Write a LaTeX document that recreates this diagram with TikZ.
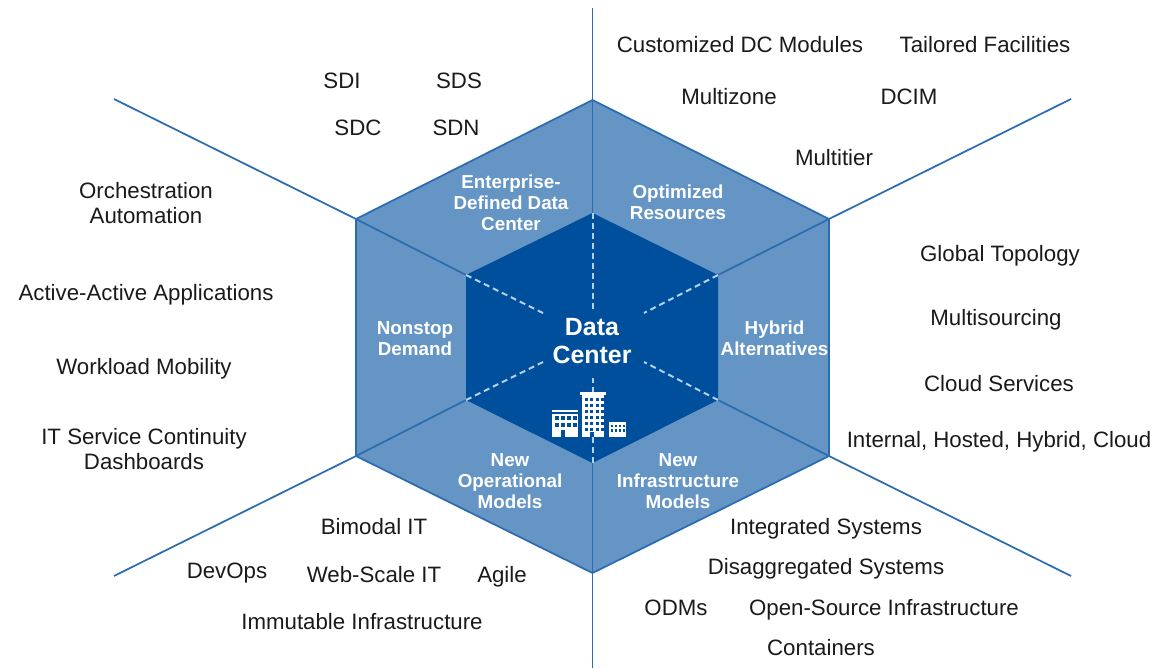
\documentclass[tikz,border=0pt]{standalone}
\usepackage{fontspec}
\setmainfont{Liberation Sans}
\definecolor{outerblue}{HTML}{6595C5}
\definecolor{innerblue}{HTML}{004F9D}
\definecolor{lineblue}{HTML}{2B6CB0}
\definecolor{dashblue}{HTML}{B5D0EA}
\definecolor{textgray}{HTML}{1A1A1A}
\tikzset{
  item/.style={text=textgray, font=\fontsize{16.7}{18.8}\selectfont, align=center, inner sep=0pt},
  segment/.style={text=white, font=\bfseries\fontsize{14.1}{15.8}\selectfont, align=center, inner sep=0pt},
  spoke/.style={draw=lineblue, line width=1.3pt},
  spokein/.style={draw=dashblue, line width=1.5pt, dash pattern=on 4.5pt off 3pt}
}
\begin{document}
\begin{tikzpicture}[x=0.75pt, y=-0.75pt]
	\useasboundingbox (0, 0) rectangle (1156, 668);
	% outer ring
	\coordinate (OT) at (592.5, 100);
	\coordinate (OR) at (829, 219);
	\coordinate (OD) at (829, 456);
	\coordinate (OB) at (592.5, 573);
	\coordinate (OF) at (356, 456);
	\coordinate (OL) at (356, 219);
	% inner hexagon
	\coordinate (IT) at (592.5, 213);
	\coordinate (IR) at (718, 275);
	\coordinate (ID) at (718, 400);
	\coordinate (IB) at (592.5, 463);
	\coordinate (IF) at (466, 400);
	\coordinate (IL) at (466, 275);
	% free ends
	\coordinate (ET) at (592.5, 8);
	\coordinate (ER) at (1071, 99);
	\coordinate (ED) at (1071, 576);
	\coordinate (EB) at (592.5, 668);
	\coordinate (EF) at (114, 576);
	\coordinate (EL) at (114, 99);
	\coordinate (CT) at (592.5, 310);
	\coordinate (CR) at (644, 313);
	\coordinate (CD) at (644, 362);
	\coordinate (CB) at (592.5, 378);
	\coordinate (CF) at (543, 362);
	\coordinate (CL) at (543, 313);

	\fill [outerblue] (OT) -- (OR) -- (OD) -- (OB) -- (OF) -- (OL) -- cycle;
	\foreach \a/\b/\c in {OT/IT/ET, OR/IR/ER, OD/ID/ED, OB/IB/EB, OF/IF/EF, OL/IL/EL} {
		\draw [spoke] (\c) -- (\a) -- (\b);
	}
	\draw [spoke] (OT) -- (OR) -- (OD) -- (OB) -- (OF) -- (OL) -- cycle;
	\fill [innerblue] (IT) -- (IR) -- (ID) -- (IB) -- (IF) -- (IL) -- cycle;
	\foreach \a/\b in {IT/CT, IR/CR, ID/CD, IB/CB, IF/CF, IL/CL} {
		\draw [spokein] (\a) -- (\b);
	}

	% buildings
	\fill [white] (580, 392) rectangle (606, 394.5);
	\fill [white] (582, 394.5) rectangle (604, 437);
	\fill [white] (552, 410) rectangle (578, 412);
	\fill [white] (552, 413.5) rectangle (578, 437);
	\fill [white] (609, 422) rectangle (626, 437);
	\foreach \x in {584.5, 590, 595.5, 600.5} {
		\foreach \y in {397.5, 403.5, 409.5, 415.5, 421.5, 427.5} {
			\fill [innerblue] (\x, \y) rectangle +(3.4, 3.8);
		}
	}
	\fill [innerblue] (590, 431.5) rectangle (594, 437);
	\foreach \x in {555, 561, 567, 573} {
		\foreach \y in {416, 422.5} {
			\fill [innerblue] (\x, \y) rectangle +(3.8, 4);
		}
	}
	\fill [innerblue] (561, 429.5) rectangle (565, 437);
	\foreach \x in {611, 615, 619, 622.5} {
		\foreach \y in {424.5, 429} {
			\fill [innerblue] (\x, \y) rectangle +(2.4, 2.8);
		}
	}

	\node [segment, font=\bfseries\fontsize{18.7}{21}\selectfont] (DC) at (592, 341.5) {Data\\Center};
	\node [segment] (EDDC) at (511, 203) {Enterprise-\\Defined Data\\Center};
	\node [segment] (OPT) at (678, 202.5) {Optimized\\Resources};
	\node [segment] (HYB) at (774.5, 338.5) {Hybrid\\Alternatives};
	\node [segment] (NIM) at (678, 481.5) {New\\Infrastructure\\Models};
	\node [segment] (NOM) at (510, 481.5) {New\\Operational\\Models};
	\node [segment] (NSD) at (415, 338.5) {Nonstop\\Demand};

	\node [item] (SDI) at (342, 81) {SDI};
	\node [item] (SDS) at (459, 81) {SDS};
	\node [item] (SDC) at (358, 128) {SDC};
	\node [item] (SDN) at (456, 128) {SDN};
	\node [item] (CDC) at (740, 45) {Customized DC Modules};
	\node [item] (TF) at (985, 45) {Tailored Facilities};
	\node [item] (MZ) at (729, 97) {Multizone};
	\node [item] (DCIM) at (909, 97) {DCIM};
	\node [item] (MT) at (834, 158) {Multitier};
	\node [item] (GT) at (1000, 256) {Global Topology};
	\node [item] (MS) at (996, 320) {Multisourcing};
	\node [item] (CS) at (999, 384) {Cloud Services};
	\node [item] (IHH) at (999, 442) {Internal, Hosted, Hybrid, Cloud};
	\node [item] (IS) at (826, 528.5) {Integrated Systems};
	\node [item] (DS) at (826, 568.5) {Disaggregated Systems};
	\node [item] (ODM) at (676, 608) {ODMs};
	\node [item] (OSI) at (884, 610) {Open-Source Infrastructure};
	\node [item] (CON) at (821, 648) {Containers};
	\node [item] (BIT) at (374, 527) {Bimodal IT};
	\node [item] (DEV) at (227, 573) {DevOps};
	\node [item] (WS) at (374, 575) {Web-Scale IT};
	\node [item] (AG) at (502, 577) {Agile};
	\node [item] (II) at (362, 622) {Immutable Infrastructure};
	\node [item] (OA) at (146, 203) {Orchestration\\Automation};
	\node [item] (AA) at (146, 295) {Active-Active Applications};
	\node [item] (WM) at (144, 369) {Workload Mobility};
	\node [item] (ITS) at (144, 449) {IT Service Continuity\\Dashboards};
\end{tikzpicture}
\end{document}
